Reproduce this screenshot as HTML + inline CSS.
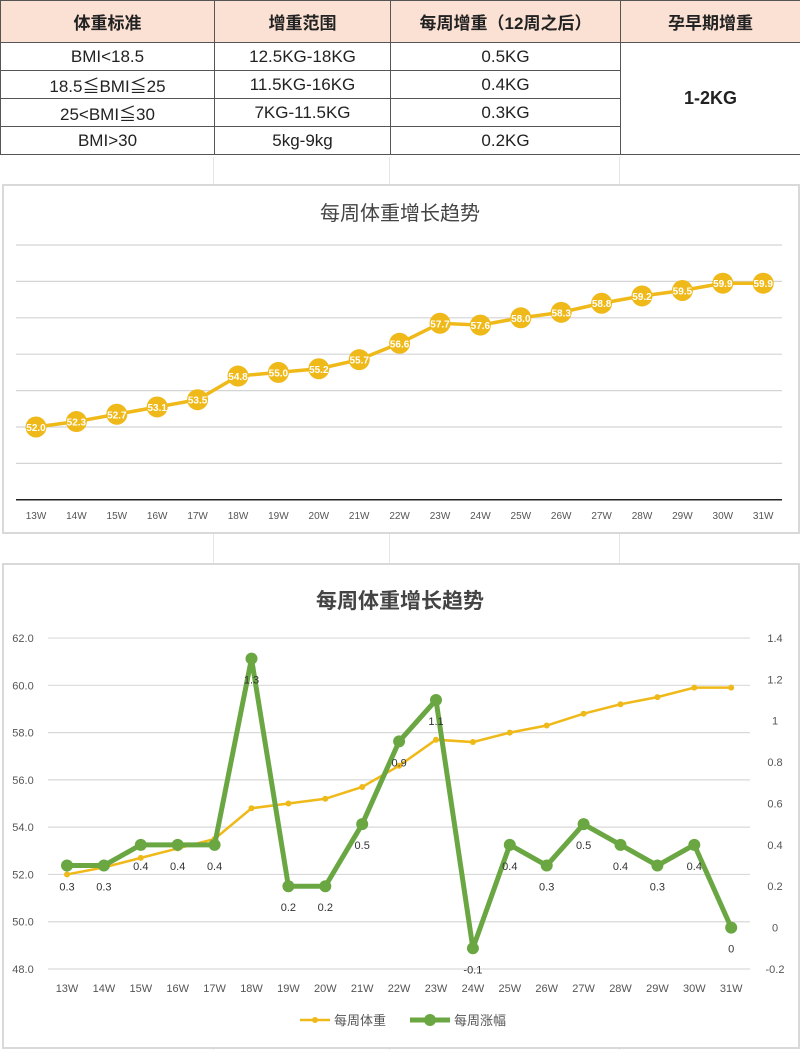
<!DOCTYPE html>
<html><head><meta charset="utf-8">
<style>
body{margin:0;width:800px;height:1050px;background:#fff;font-family:"Liberation Sans","Noto Sans CJK SC",sans-serif;overflow:hidden;position:relative}
table{position:absolute;left:0;top:0;width:800px;border-collapse:collapse;table-layout:fixed}
td,th{border:1.5px solid #555;text-align:center;font-size:17px;color:#222;padding:0}
th{background:#fbe1d3;height:41px;font-weight:bold;font-size:17px}
td{height:27px;font-weight:normal}
.box{position:absolute;border:2px solid #d9d9d9;background:#fff}
svg text{font-family:"Liberation Sans","Noto Sans CJK SC",sans-serif}
</style></head><body>
<table>
<colgroup><col style="width:214px"><col style="width:176px"><col style="width:230px"><col style="width:180px"></colgroup>
<tr><th>体重标准</th><th>增重范围</th><th>每周增重（12周之后）</th><th>孕早期增重</th></tr>
<tr><td>BMI&lt;18.5</td><td>12.5KG-18KG</td><td>0.5KG</td><td rowspan="4" style="font-weight:bold;font-size:18px">1-2KG</td></tr>
<tr><td>18.5≦BMI≦25</td><td>11.5KG-16KG</td><td>0.4KG</td></tr>
<tr><td>25&lt;BMI≦30</td><td>7KG-11.5KG</td><td>0.3KG</td></tr>
<tr><td>BMI&gt;30</td><td>5kg-9kg</td><td>0.2KG</td></tr>
</table>
<div style="position:absolute;left:213px;top:157px;width:1px;height:893px;background:#e6e6e6"></div>
<div style="position:absolute;left:389px;top:157px;width:1px;height:893px;background:#e6e6e6"></div>
<div style="position:absolute;left:619px;top:157px;width:1px;height:893px;background:#e6e6e6"></div>
<div class="box" style="left:2px;top:184px;width:794px;height:346px"></div>
<div class="box" style="left:2px;top:563px;width:794px;height:482px"></div>
<svg width="800" height="1050" style="position:absolute;left:0;top:0">
<g id="c1"></g><g id="c2"></g>
</svg>
<script>
const weeks=["13W","14W","15W","16W","17W","18W","19W","20W","21W","22W","23W","24W","25W","26W","27W","28W","29W","30W","31W"];
const weights=[52.0,52.3,52.7,53.1,53.5,54.8,55.0,55.2,55.7,56.6,57.7,57.6,58.0,58.3,58.8,59.2,59.5,59.9,59.9];
const gains=[0.3,0.3,0.4,0.4,0.4,1.3,0.2,0.2,0.5,0.9,1.1,-0.1,0.4,0.3,0.5,0.4,0.3,0.4,0];
const leftTicks=[48,50,52,54,56,58,60,62];
const rightTicks=[-0.2,0,0.2,0.4,0.6,0.8,1,1.2,1.4];
const NS="http://www.w3.org/2000/svg";
function mk(p,tag,a,txt){const e=document.createElementNS(NS,tag);for(const k in a)e.setAttribute(k,a[k]);if(txt!==undefined)e.textContent=txt;p.appendChild(e);return e;}
const YEL="#efb919",GRN="#6aa743";
// chart 1
const c1=document.getElementById('c1');
const x1=i=>36+i*40.4, y1=v=>427-(v-52)*18.2;
let t=mk(c1,'text',{x:400,y:220,'text-anchor':'middle','font-size':20,fill:'#444'},'每周体重增长趋势');


leftTicks.forEach(v=>{if(v===48)return;const g=mk(c1,'line',{x1:16,x2:782,y1:y1(v),y2:y1(v),stroke:'#d4d4d4','stroke-width':1.2});

});
mk(c1,'line',{x1:16,x2:782,y1:y1(48),y2:y1(48),stroke:'#222','stroke-width':1.5});
weeks.forEach((w,i)=>{const e=mk(c1,'text',{x:x1(i),y:519,'text-anchor':'middle','font-size':10,fill:'#555'},w);

});
let l1=mk(c1,'polyline',{points:weights.map((v,i)=>x1(i)+','+y1(v)).join(' '),fill:'none',stroke:YEL,'stroke-width':3.5});


weights.forEach((v,i)=>{const c=mk(c1,'circle',{cx:x1(i),cy:y1(v),r:10.5,fill:YEL});


const e=mk(c1,'text',{x:x1(i),y:y1(v)+4,'text-anchor':'middle','font-size':10,'font-weight':'bold',fill:'#fff'},v.toFixed(1));

});
// chart 2
const c2=document.getElementById('c2');
const x2=i=>67+i*36.9, yL=v=>969-(v-48)*23.64, yR=v=>969-(v+0.2)*206.9;
t=mk(c2,'text',{x:400,y:608,'text-anchor':'middle','font-size':21,'font-weight':'bold',fill:'#444'},'每周体重增长趋势');


leftTicks.forEach(v=>{const g=mk(c2,'line',{x1:48,x2:750,y1:yL(v),y2:yL(v),stroke:'#d9d9d9','stroke-width':1.2});


const e=mk(c2,'text',{x:23,y:yL(v)+4,'text-anchor':'middle','font-size':11,fill:'#555'},v.toFixed(1));

});
rightTicks.forEach(v=>{const e=mk(c2,'text',{x:775,y:yR(v)+4,'text-anchor':'middle','font-size':11,fill:'#555'},String(Math.round(v*10)/10));

});
weeks.forEach((w,i)=>{const e=mk(c2,'text',{x:x2(i),y:992,'text-anchor':'middle','font-size':11,fill:'#555'},w);

});
let l2=mk(c2,'polyline',{points:weights.map((v,i)=>x2(i)+','+yL(v)).join(' '),fill:'none',stroke:YEL,'stroke-width':2.5});


weights.forEach((v,i)=>{const c=mk(c2,'circle',{cx:x2(i),cy:yL(v),r:3,fill:YEL});

});
let l3=mk(c2,'polyline',{points:gains.map((v,i)=>x2(i)+','+yR(v)).join(' '),fill:'none',stroke:GRN,'stroke-width':5,'stroke-linejoin':'round'});


gains.forEach((v,i)=>{const c=mk(c2,'circle',{cx:x2(i),cy:yR(v),r:6,fill:GRN});


const e=mk(c2,'text',{x:x2(i),y:yR(v)+25,'text-anchor':'middle','font-size':11,fill:'#333'},String(v));

});
// legend
const lg=mk(c2,'g',{});


mk(lg,'line',{x1:300,x2:330,y1:1020,y2:1020,stroke:YEL,'stroke-width':2.5});
mk(lg,'circle',{cx:315,cy:1020,r:3,fill:YEL});
mk(lg,'text',{x:334,y:1025,'font-size':13,fill:'#555'},'每周体重');
mk(lg,'line',{x1:410,x2:450,y1:1020,y2:1020,stroke:GRN,'stroke-width':5});
mk(lg,'circle',{cx:430,cy:1020,r:6,fill:GRN});
mk(lg,'text',{x:454,y:1025,'font-size':13,fill:'#555'},'每周涨幅');
</script>
</body></html>
